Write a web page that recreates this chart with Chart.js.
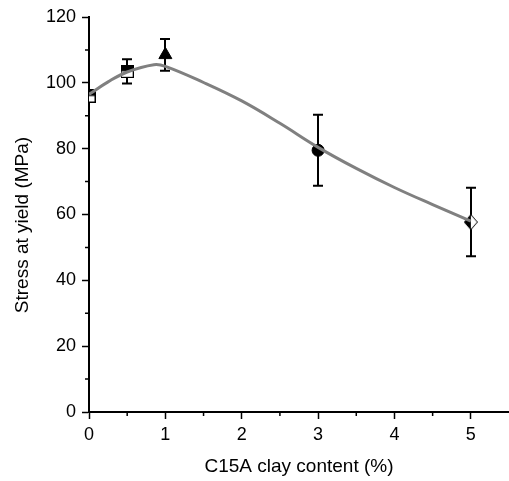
<!DOCTYPE html>
<html>
<head>
<meta charset="utf-8">
<script src="https://cdn.jsdelivr.net/npm/chart.js@4.4.1/dist/chart.umd.min.js"></script>
<style>
html, body { margin: 0; padding: 0; background: #fff; }
#wrap { width: 509px; height: 481px; }
</style>
</head>
<body>
<div id="wrap"><canvas id="stress_chart"></canvas></div>
<script>
// measured points
var clayContent = [0, 0.5, 1, 3, 5];
var stressYield = [96, 103.5, 108.5, 79.5, 57.7];
var stressError = [1.8, 3.7, 4.8, 10.8, 10.4];

// fitted curve
var fitX = [0, 0.25, 0.5, 0.85, 1, 1.5, 2, 2.5, 3, 3.5, 4, 4.5, 5];
var fitY = [96.5, 100.3, 103.3, 105.5, 105, 100.1, 94.5, 87.7, 80.4, 74.0, 68.2, 63.0, 58];

var xMinorTicks = [0.5, 1.5, 2.5, 3.5, 4.5];
var yMinorTicks = [10, 30, 50, 70, 90, 110];

var fontFamily = "'Liberation Sans', Arial, sans-serif";

// half filled markers
function halfSquare() {
  var c = document.createElement("canvas");
  c.width = 13; c.height = 13;
  var g = c.getContext("2d");
  g.fillStyle = "#fff";
  g.fillRect(0.5, 0.5, 12, 12);
  g.fillStyle = "#000";
  g.fillRect(0.5, 0.5, 12, 6);
  g.strokeStyle = "#000";
  g.lineWidth = 1;
  g.strokeRect(0.5, 0.5, 12, 12);
  return c;
}
function halfDiamond() {
  var c = document.createElement("canvas");
  c.width = 14; c.height = 16;
  var g = c.getContext("2d");
  g.beginPath();
  g.moveTo(7, 0.5); g.lineTo(13.5, 8); g.lineTo(7, 15.5); g.lineTo(0.5, 8); g.closePath();
  g.fillStyle = "#fff";
  g.fill();
  g.beginPath();
  g.moveTo(7, 0.5); g.lineTo(7, 15.5); g.lineTo(0.5, 8); g.closePath();
  g.fillStyle = "#000";
  g.fill();
  g.beginPath();
  g.moveTo(7, 0.5); g.lineTo(13.5, 8); g.lineTo(7, 15.5); g.lineTo(0.5, 8); g.closePath();
  g.strokeStyle = "#000";
  g.lineWidth = 1;
  g.stroke();
  return c;
}
var sq = halfSquare();
var dia = halfDiamond();

var errorBars = {
  id: "errorBars",
  beforeDatasetsDraw: function (chart) {
    var ctx = chart.ctx;
    var xs = chart.scales.x, ys = chart.scales.y, a = chart.chartArea;
    ctx.save();
    ctx.beginPath();
    ctx.rect(a.left, a.top - 5, a.right - a.left, a.bottom - a.top + 5);
    ctx.clip();
    ctx.strokeStyle = "#000";
    ctx.lineWidth = 2;
    for (var i = 0; i < clayContent.length; i++) {
      var px = Math.round(xs.getPixelForValue(clayContent[i]));
      var hi = ys.getPixelForValue(stressYield[i] + stressError[i]);
      var lo = ys.getPixelForValue(stressYield[i] - stressError[i]);
      ctx.beginPath();
      ctx.moveTo(px, hi); ctx.lineTo(px, lo);
      ctx.moveTo(px - 5, hi); ctx.lineTo(px + 5, hi);
      ctx.moveTo(px - 5, lo); ctx.lineTo(px + 5, lo);
      ctx.stroke();
    }
    ctx.restore();
  },
  afterDraw: function (chart) {
    var ctx = chart.ctx;
    var xs = chart.scales.x, ys = chart.scales.y, a = chart.chartArea;
    ctx.save();
    ctx.strokeStyle = "#000";
    ctx.lineWidth = 1.5;
    ctx.beginPath();
    xMinorTicks.forEach(function (v) {
      var px = xs.getPixelForValue(v);
      ctx.moveTo(px, a.bottom); ctx.lineTo(px, a.bottom + 4);
    });
    yMinorTicks.forEach(function (v) {
      var py = ys.getPixelForValue(v);
      ctx.moveTo(a.left, py); ctx.lineTo(a.left - 4, py);
    });
    ctx.stroke();
    ctx.restore();
  }
};

var config = {
  type: "scatter",
  data: {
    datasets: [
      {
        label: "fit",
        data: fitX.map(function (x, i) { return { x: x, y: fitY[i] }; }),
        showLine: true,
        borderColor: "#808080",
        borderWidth: 3,
        pointRadius: 0,
        tension: 0.4,
        clip: 0
      },
      {
        label: "Stress at yield",
        data: clayContent.map(function (x, i) { return { x: x, y: stressYield[i] }; }),
        pointStyle: [sq, sq, "triangle", "circle", dia],
        pointRadius: [6, 6, 7.5, 6, 6],
        pointBackgroundColor: "#000",
        pointBorderColor: "#000",
        pointBorderWidth: 1,
        clip: 0
      }
    ]
  },
  options: {
    responsive: true,
    maintainAspectRatio: false,
    animation: false,
    layout: { autoPadding: false, padding: { top: 17, right: 0, bottom: 0, left: 0 } },
    plugins: { legend: { display: false }, tooltip: { enabled: false } },
    scales: {
      x: {
        type: "linear",
        min: 0,
        max: 5.5,
        afterFit: function (s) { s.height = 69; s.paddingLeft = 0; s.paddingRight = 0; },
        border: { color: "#000", width: 2 },
        grid: { drawOnChartArea: false, tickLength: 7, tickColor: "#000", tickWidth: 1.5 },
        ticks: {
          stepSize: 1,
          includeBounds: false,
          padding: 5,
          color: "#000",
          font: { family: fontFamily, size: 18 }
        },
        title: {
          display: true,
          text: "C15A clay content (%)",
          color: "#000",
          padding: { top: 0, bottom: 3 },
          font: { family: fontFamily, size: 19 }
        }
      },
      y: {
        min: 0,
        max: 120,
        afterFit: function (s) { s.width = 89; s.paddingTop = 0; s.paddingBottom = 0; },
        border: { color: "#000", width: 2 },
        grid: { drawOnChartArea: false, tickLength: 7, tickColor: "#000", tickWidth: 1.5 },
        ticks: {
          stepSize: 20,
          padding: 6,
          color: "#000",
          font: { family: fontFamily, size: 18 }
        },
        title: {
          display: true,
          text: "Stress at yield (MPa)    ",
          color: "#000",
          padding: { top: 11, bottom: 0 },
          font: { family: fontFamily, size: 19 }
        }
      }
    }
  },
  plugins: [errorBars]
};

var stress_chart = new Chart(document.getElementById("stress_chart"), config);
</script>
</body>
</html>
